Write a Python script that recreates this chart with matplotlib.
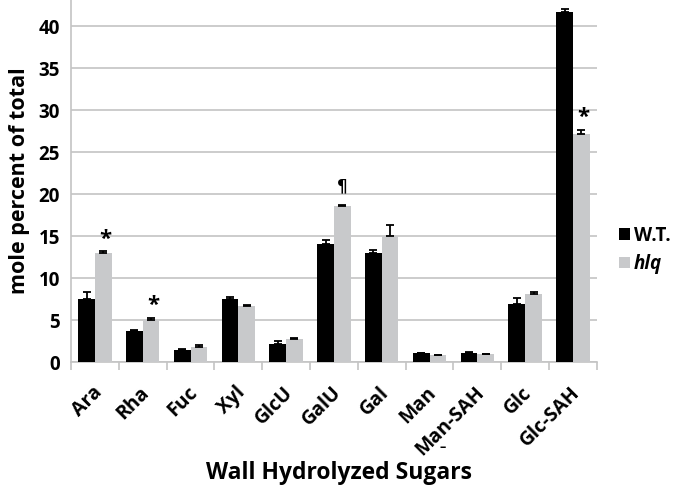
import matplotlib
matplotlib.use("Agg")
import matplotlib.pyplot as plt
import matplotlib.transforms as mtransforms
import numpy as np

categories = ["Ara", "Rha", "Fuc", "Xyl", "GlcU", "GalU", "Gal", "Man", "Man-SAH", "Glc", "Glc-SAH"]
wt_values = [7.5, 3.7, 1.4, 7.5, 2.1, 14.0, 13.0, 1.05, 1.1, 6.9, 41.7]
wt_errors = [0.8, 0.1, 0.12, 0.25, 0.4, 0.5, 0.4, 0.08, 0.08, 0.7, 0.3]
hlq_values = [13.0, 5.0, 1.8, 6.7, 2.8, 18.6, 15.0, 0.85, 0.95, 8.15, 27.2]
hlq_errors = [0.2, 0.3, 0.2, 0.1, 0.1, 0.1, 1.35, 0.05, 0.06, 0.15, 0.45]
marks = {"Ara": "*", "Rha": "*", "GalU": "\u00b6", "Glc-SAH": "*"}

plt.rcParams['font.family'] = ['Open Sans', 'DejaVu Sans']
plt.rcParams['font.weight'] = 'bold'

fig = plt.figure(figsize=(6.79, 4.88), dpi=100)
ax = fig.add_axes([0.1046, 0.258, 0.7744, 0.742])

x = np.arange(len(categories))
w = 0.35
wt_col = "#000000"
hlq_col = "#c8c9cb"
ekw = dict(ecolor='black', capsize=3, elinewidth=1.3, capthick=1.3)
ax.bar(x - w/2, wt_values, w, color=wt_col, label="W.T.", zorder=3,
       yerr=[np.zeros(len(x)), wt_errors], error_kw=ekw)
ax.bar(x + w/2, hlq_values, w, color=hlq_col, label="hlq", zorder=3,
       yerr=[np.zeros(len(x)), hlq_errors], error_kw=ekw)

for i, c in enumerate(categories):
    if c in marks:
        top = hlq_values[i] + hlq_errors[i]
        if marks[c] == "*":
            ax.text(x[i] + w/2 + 0.05, top + 0.2, "*", ha='center', va='bottom',
                    fontsize=16, fontweight='bold', color='black')
        else:
            ax.text(x[i] + w/2, top + 1.2, marks[c], ha='center', va='bottom',
                    fontsize=12, fontweight='bold', color='black', family=['DejaVu Sans'])

ax.set_xlim(-0.5, len(categories) - 0.5)
ax.set_ylim(0, 43.1)
ax.set_yticks(np.arange(0, 41, 5))
ax.yaxis.grid(True, color="#c4c4c4", linewidth=1.2, zorder=0)
ax.set_axisbelow(True)
for s in ['top', 'right']:
    ax.spines[s].set_visible(False)
for s in ['left', 'bottom']:
    ax.spines[s].set_color("#c4c4c4")
    ax.spines[s].set_linewidth(1.2)
ax.tick_params(axis='y', length=0, labelsize=13.5, pad=8)
ax.set_yticklabels([str(v) for v in range(0, 41, 5)], fontweight='bold')

ax.set_xticks(x)
ax.set_xticklabels(categories, rotation=45, ha='right', va='center', rotation_mode='anchor',
                   fontsize=14, fontweight='bold')
ax.tick_params(axis='x', length=0, pad=20)
offset = mtransforms.ScaledTranslation(4/100, 0, fig.dpi_scale_trans)
for lab in ax.get_xticklabels():
    lab.set_transform(lab.get_transform() + offset)
ax.set_xticks(np.arange(-0.5, len(categories)), minor=True)
ax.tick_params(axis='x', which='minor', length=6, color="#c4c4c4", width=1.2, direction='out')

ax.set_ylabel("mole percent of total", fontsize=15.5, fontweight='bold', labelpad=6)
fig.text(0.5, 0.031, "Wall Hydrolyzed Sugars", ha='center', va='center', fontsize=16.5, fontweight='bold')
fig.text(0.652, 0.084, "\u2013", ha='center', va='center', fontsize=9, fontweight='bold')

leg = ax.legend(loc='center left', bbox_to_anchor=(1.035, 0.31), frameon=False, fontsize=13.5,
                handlelength=0.6, handleheight=0.6, handletextpad=0.2, labelspacing=0.45,
                borderpad=0.1, borderaxespad=0.1)
leg.get_texts()[1].set_fontstyle('italic')

fig.savefig("out.png", dpi=100)
